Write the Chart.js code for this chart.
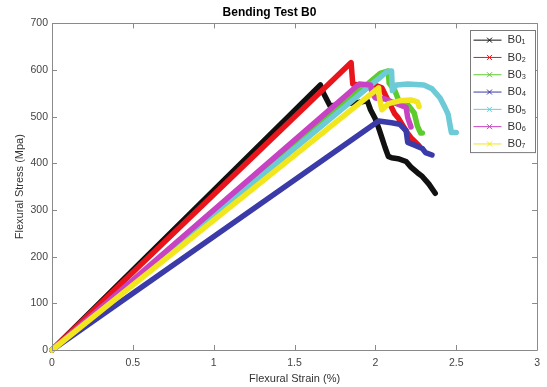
<!DOCTYPE html>
<html><head><meta charset="utf-8">
<script src="https://cdn.jsdelivr.net/npm/chart.js@4.4.1/dist/chart.umd.min.js"></script>
<style>html,body{margin:0;padding:0;background:#fff}#wrap{width:547px;height:387px}</style>
</head><body><div id="wrap"><canvas id="c" width="547" height="387"></canvas></div>
<script>
// ---- data ----
const seriesNames = ['B0\u2081','B0\u2082','B0\u2083','B0\u2084','B0\u2085','B0\u2086','B0\u2087'];
const seriesColors = ['#111111','#e8161c','#5ccc2c','#3a3aa8','#6ccbd6','#c842c4','#f2e61e'];

const b01Strain = [0, 1.66, 1.68, 1.72, 1.80, 1.90, 1.95, 1.97, 2.00, 2.02, 2.04, 2.06, 2.08, 2.10, 2.14, 2.19, 2.22, 2.26, 2.29, 2.33, 2.37];
const b01Stress = [0, 568, 550, 523, 527, 531, 534, 515, 495, 476, 455, 434, 415, 412, 410, 404, 392, 380, 372, 356, 336];

const b02Strain = [0, 1.85, 1.86, 1.93, 1.98, 2.04, 2.08, 2.12, 2.14, 2.20, 2.22, 2.27];
const b02Stress = [0, 616, 570, 566, 570, 562, 534, 506, 498, 464, 455, 438];

const b03Strain = [0, 2.03, 2.08, 2.085, 2.12, 2.15, 2.20, 2.24, 2.26, 2.28, 2.29];
const b03Stress = [0, 593, 598, 572, 556, 530, 526, 508, 480, 465, 465];

const b04Strain = [0, 2.02, 2.10, 2.15, 2.19, 2.20, 2.25, 2.29, 2.31, 2.35];
const b04Stress = [0, 491, 487, 484, 470, 445, 438, 432, 423, 418];

const b05Strain = [0, 2.07, 2.10, 2.105, 2.13, 2.20, 2.30, 2.35, 2.40, 2.43, 2.45, 2.46, 2.47, 2.50];
const b05Stress = [0, 596, 598, 556, 568, 570, 568, 560, 540, 520, 505, 485, 466, 466];

const b06Strain = [0, 1.90, 1.97, 1.98, 2.00, 2.06, 2.10, 2.19, 2.20, 2.22];
const b06Stress = [0, 570, 568, 550, 540, 538, 532, 520, 498, 478];

const b07Strain = [0, 2.02, 2.025, 2.04, 2.08, 2.15, 2.22, 2.26, 2.27];
const b07Stress = [0, 562, 540, 515, 528, 534, 536, 532, 522];

const xTickValues = [0, 0.5, 1, 1.5, 2, 2.5, 3];
const xTickLabels = ['0', '0.5', '1', '1.5', '2', '2.5', '3'];
const yTickValues = [0, 100, 200, 300, 400, 500, 600, 700];
const yTickLabels = ['0', '100', '200', '300', '400', '500', '600', '700'];

const chartTitle = 'Bending Test B0';
const xTitle = 'Flexural Strain (%)';
const yTitle = 'Flexural Stress (Mpa)';

// ---- build datasets ----
const strains = [b01Strain, b02Strain, b03Strain, b04Strain, b05Strain, b06Strain, b07Strain];
const stresses = [b01Stress, b02Stress, b03Stress, b04Stress, b05Stress, b06Stress, b07Stress];
const datasets = seriesNames.map((name, i) => ({
  label: name,
  data: strains[i].map((s, k) => ({x: s, y: stresses[i][k]})),
  borderColor: seriesColors[i],
  backgroundColor: seriesColors[i],
  borderWidth: 5.5,
  pointRadius: 0,
  tension: 0,
  borderJoinStyle: 'round',
  borderCapStyle: 'round',
  fill: false,
  clip: 4,
  order: seriesNames.length - i
}));

const FONT = "'Liberation Sans', Arial, Helvetica, sans-serif";

const axesPlugin = {
  id: 'matlabAxes',
  afterDatasetsDraw(chart) {
    const {ctx, chartArea: a, scales} = chart;
    ctx.save();
    ctx.strokeStyle = '#8a8a8a';
    ctx.lineWidth = 1;
    ctx.beginPath();
    ctx.rect(Math.round(a.left) + 0.5, Math.round(a.top) + 0.5, Math.round(a.right - a.left), Math.round(a.bottom - a.top));
    ctx.stroke();
    const tl = 5;
    ctx.beginPath();
    xTickValues.forEach(v => {
      const px = Math.round(scales.x.getPixelForValue(v)) + 0.5;
      ctx.moveTo(px, a.bottom); ctx.lineTo(px, a.bottom - tl);
      ctx.moveTo(px, a.top); ctx.lineTo(px, a.top + tl);
    });
    yTickValues.forEach(v => {
      const py = Math.round(scales.y.getPixelForValue(v)) + 0.5;
      ctx.moveTo(a.left, py); ctx.lineTo(a.left + tl, py);
      ctx.moveTo(a.right, py); ctx.lineTo(a.right - tl, py);
    });
    ctx.stroke();
    ctx.restore();
  }
};

const legendPlugin = {
  id: 'boxLegend',
  afterDraw(chart) {
    const {ctx, chartArea: a} = chart;
    const w = 65, rowH = 17.3;
    const n = chart.data.datasets.length;
    const h = n * rowH + 1;
    const x0 = Math.round(a.right - 2 - w) + 0.5;
    const y0 = Math.round(a.top + 7) + 0.5;
    ctx.save();
    ctx.fillStyle = '#ffffff';
    ctx.fillRect(x0, y0, w, h);
    ctx.strokeStyle = '#7a7a7a';
    ctx.lineWidth = 1;
    ctx.strokeRect(x0, y0, w, h);
    chart.data.datasets.forEach((ds, i) => {
      const cy = y0 + rowH * (i + 0.5) + 1;
      const lx1 = x0 + 3, lx2 = x0 + 31, mx = x0 + 19;
      ctx.strokeStyle = ds.borderColor;
      ctx.lineWidth = 1;
      ctx.beginPath();
      ctx.moveTo(lx1, cy); ctx.lineTo(lx2, cy);
      const r = 2.5;
      ctx.moveTo(mx - r, cy - r); ctx.lineTo(mx + r, cy + r);
      ctx.moveTo(mx - r, cy + r); ctx.lineTo(mx + r, cy - r);
      ctx.stroke();
      ctx.fillStyle = '#333333';
      ctx.font = '11.5px ' + FONT;
      ctx.textBaseline = 'middle';
      ctx.textAlign = 'left';
      ctx.fillText(ds.label, x0 + 37, cy);
    });
    ctx.restore();
  }
};

new Chart(document.getElementById('c'), {
  type: 'line',
  data: {datasets},
  options: {
    responsive: false,
    animation: false,
    devicePixelRatio: 1,
    layout: {padding: {top: 0, right: 8, bottom: 0, left: 0}},
    plugins: {
      legend: {display: false},
      tooltip: {enabled: false},
      title: {
        display: true, text: chartTitle, color: '#000',
        font: {family: FONT, size: 12, weight: 'bold'},
        padding: {top: 5, bottom: 4}
      }
    },
    scales: {
      x: {
        type: 'linear', min: 0, max: 3,
        afterBuildTicks: s => { s.ticks = xTickValues.map(v => ({value: v})); },
        afterFit: s => { s.height = 37; },
        grid: {display: false, drawTicks: false},
        border: {display: false},
        ticks: {
          callback: (v) => xTickLabels[xTickValues.indexOf(v)],
          color: '#444', font: {family: FONT, size: 10.5}, padding: 7, maxRotation: 0
        },
        title: {display: true, text: xTitle, color: '#333', font: {family: FONT, size: 11}, padding: {top: 0, bottom: 1}}
      },
      y: {
        type: 'linear', min: 0, max: 700,
        afterBuildTicks: s => { s.ticks = yTickValues.map(v => ({value: v})); },
        afterFit: s => { s.width = 52; },
        grid: {display: false, drawTicks: false},
        border: {display: false},
        ticks: {
          callback: (v) => yTickLabels[yTickValues.indexOf(v)],
          color: '#444', font: {family: FONT, size: 10.5}, padding: 4
        },
        title: {display: true, text: yTitle, color: '#333', font: {family: FONT, size: 11}, padding: {top: 13, bottom: 0}}
      }
    }
  },
  plugins: [axesPlugin, legendPlugin]
});
</script>
</body></html>
